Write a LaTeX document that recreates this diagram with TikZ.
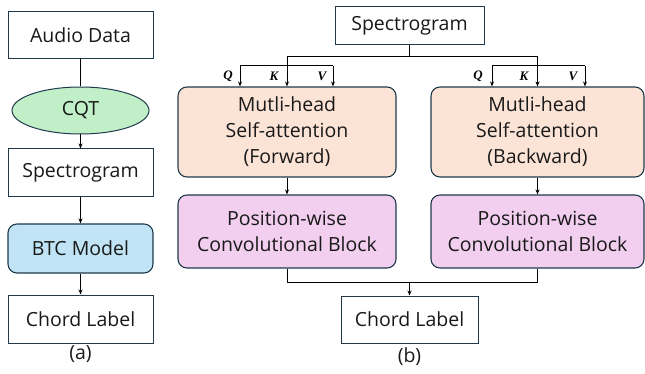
\documentclass[tikz,border=0pt]{standalone}
\usepackage{fontspec}
\setmainfont{Open Sans}
\newfontfamily\qkvfont{Liberation Serif}
\usetikzlibrary{shapes.geometric,arrows.meta}
\definecolor{bord}{HTML}{203A4C}
\definecolor{peach}{HTML}{FBE3D6}
\definecolor{pinkb}{HTML}{F2CEEF}
\definecolor{blueb}{HTML}{C0E4F5}
\definecolor{greenb}{HTML}{C1F0C8}
\begin{document}
\begin{tikzpicture}[x=1pt,y=-1pt,
  every node/.style={font=\fontsize{19.5}{26}\selectfont, text=black!90, align=center, inner sep=0pt},
  plainbox/.style={draw=bord, line width=1pt, fill=white},
  roundbox/.style={draw=bord, line width=1.1pt, rounded corners=9pt},
  arr/.style={line width=1pt, -{Stealth[length=5pt,width=4pt]}},
  ln/.style={line width=1pt},
  qkv/.style={font=\qkvfont\fontsize{13}{14}\selectfont\bfseries\itshape, text=black}]
\useasboundingbox (0,0) rectangle (645,374);
% (a)
\node[plainbox, minimum width=145pt, minimum height=47pt] (audio) at (80.5,35.5) {Audio Data};
\node[draw=bord, line width=1pt, fill=greenb, ellipse, minimum width=137pt, minimum height=47pt] (cqt) at (80.5,110.5) {CQT};
\node[plainbox, minimum width=145pt, minimum height=48pt] (spec1) at (80.5,173) {Spectrogram};
\node[roundbox, fill=blueb, minimum width=145pt, minimum height=49pt] (btc) at (80.5,248.5) {BTC Model};
\node[plainbox, minimum width=145pt, minimum height=48pt] (chord1) at (80.5,319) {Chord Label};
\node (la) at (80.5,354) {(a)};
\draw[ln] (audio) -- (cqt);
\draw[arr] (cqt) -- (spec1);
\draw[arr] (spec1) -- (btc);
\draw[arr] (btc) -- (chord1);
% (b)
\node[plainbox, minimum width=149pt, minimum height=38pt] (spec2) at (409.5,26) {Spectrogram};
\node[roundbox, fill=peach, minimum width=218pt, minimum height=90pt] (mh1) at (287,132) {Mutli-head\\Self-attention\\(Forward)};
\node[roundbox, fill=peach, minimum width=213pt, minimum height=90pt] (mh2) at (537.5,132) {Mutli-head\\Self-attention\\(Backward)};
\node[roundbox, fill=pinkb, minimum width=218pt, minimum height=73pt] (pw1) at (287,231.5) {Position-wise\\Convolutional Block};
\node[roundbox, fill=pinkb, minimum width=213pt, minimum height=73pt] (pw2) at (537.5,231.5) {Position-wise\\Convolutional Block};
\node[plainbox, minimum width=137pt, minimum height=47pt] (chord2) at (409.5,319.5) {Chord Label};
\node (lb) at (409.5,357) {(b)};
% spectrogram to K
\coordinate (top) at (409.5,57);
\draw[ln] (spec2.south) -- (top);
\draw[arr] (top) -| (mh1.north);
\draw[arr] (top) -| (mh2.north);
% Q and V branches
\coordinate (q1) at (240,66);
\coordinate (v1) at (333,66);
\coordinate (q2) at (492,66);
\coordinate (v2) at (585,66);
\draw[ln] (q1) -- (v1);
\draw[ln] (q2) -- (v2);
\draw[arr] (q1) -- (q1 |- mh1.north);
\draw[arr] (v1) -- (v1 |- mh1.north);
\draw[arr] (q2) -- (q2 |- mh2.north);
\draw[arr] (v2) -- (v2 |- mh2.north);
\node[qkv] (lq1) at (228,76) {Q};
\node[qkv] (lk1) at (274,76) {K};
\node[qkv] (lv1) at (322,76) {V};
\node[qkv] (lq2) at (478,76) {Q};
\node[qkv] (lk2) at (524,76) {K};
\node[qkv] (lv2) at (573,76) {V};
% to position-wise
\draw[arr] (mh1) -- (pw1);
\draw[arr] (mh2) -- (pw2);
% merge
\coordinate (bot) at (409.5,282);
\draw[ln] (pw1.south) |- (bot);
\draw[ln] (pw2.south) |- (bot);
\draw[arr] (bot) -- (chord2);
\end{tikzpicture}
\end{document}
